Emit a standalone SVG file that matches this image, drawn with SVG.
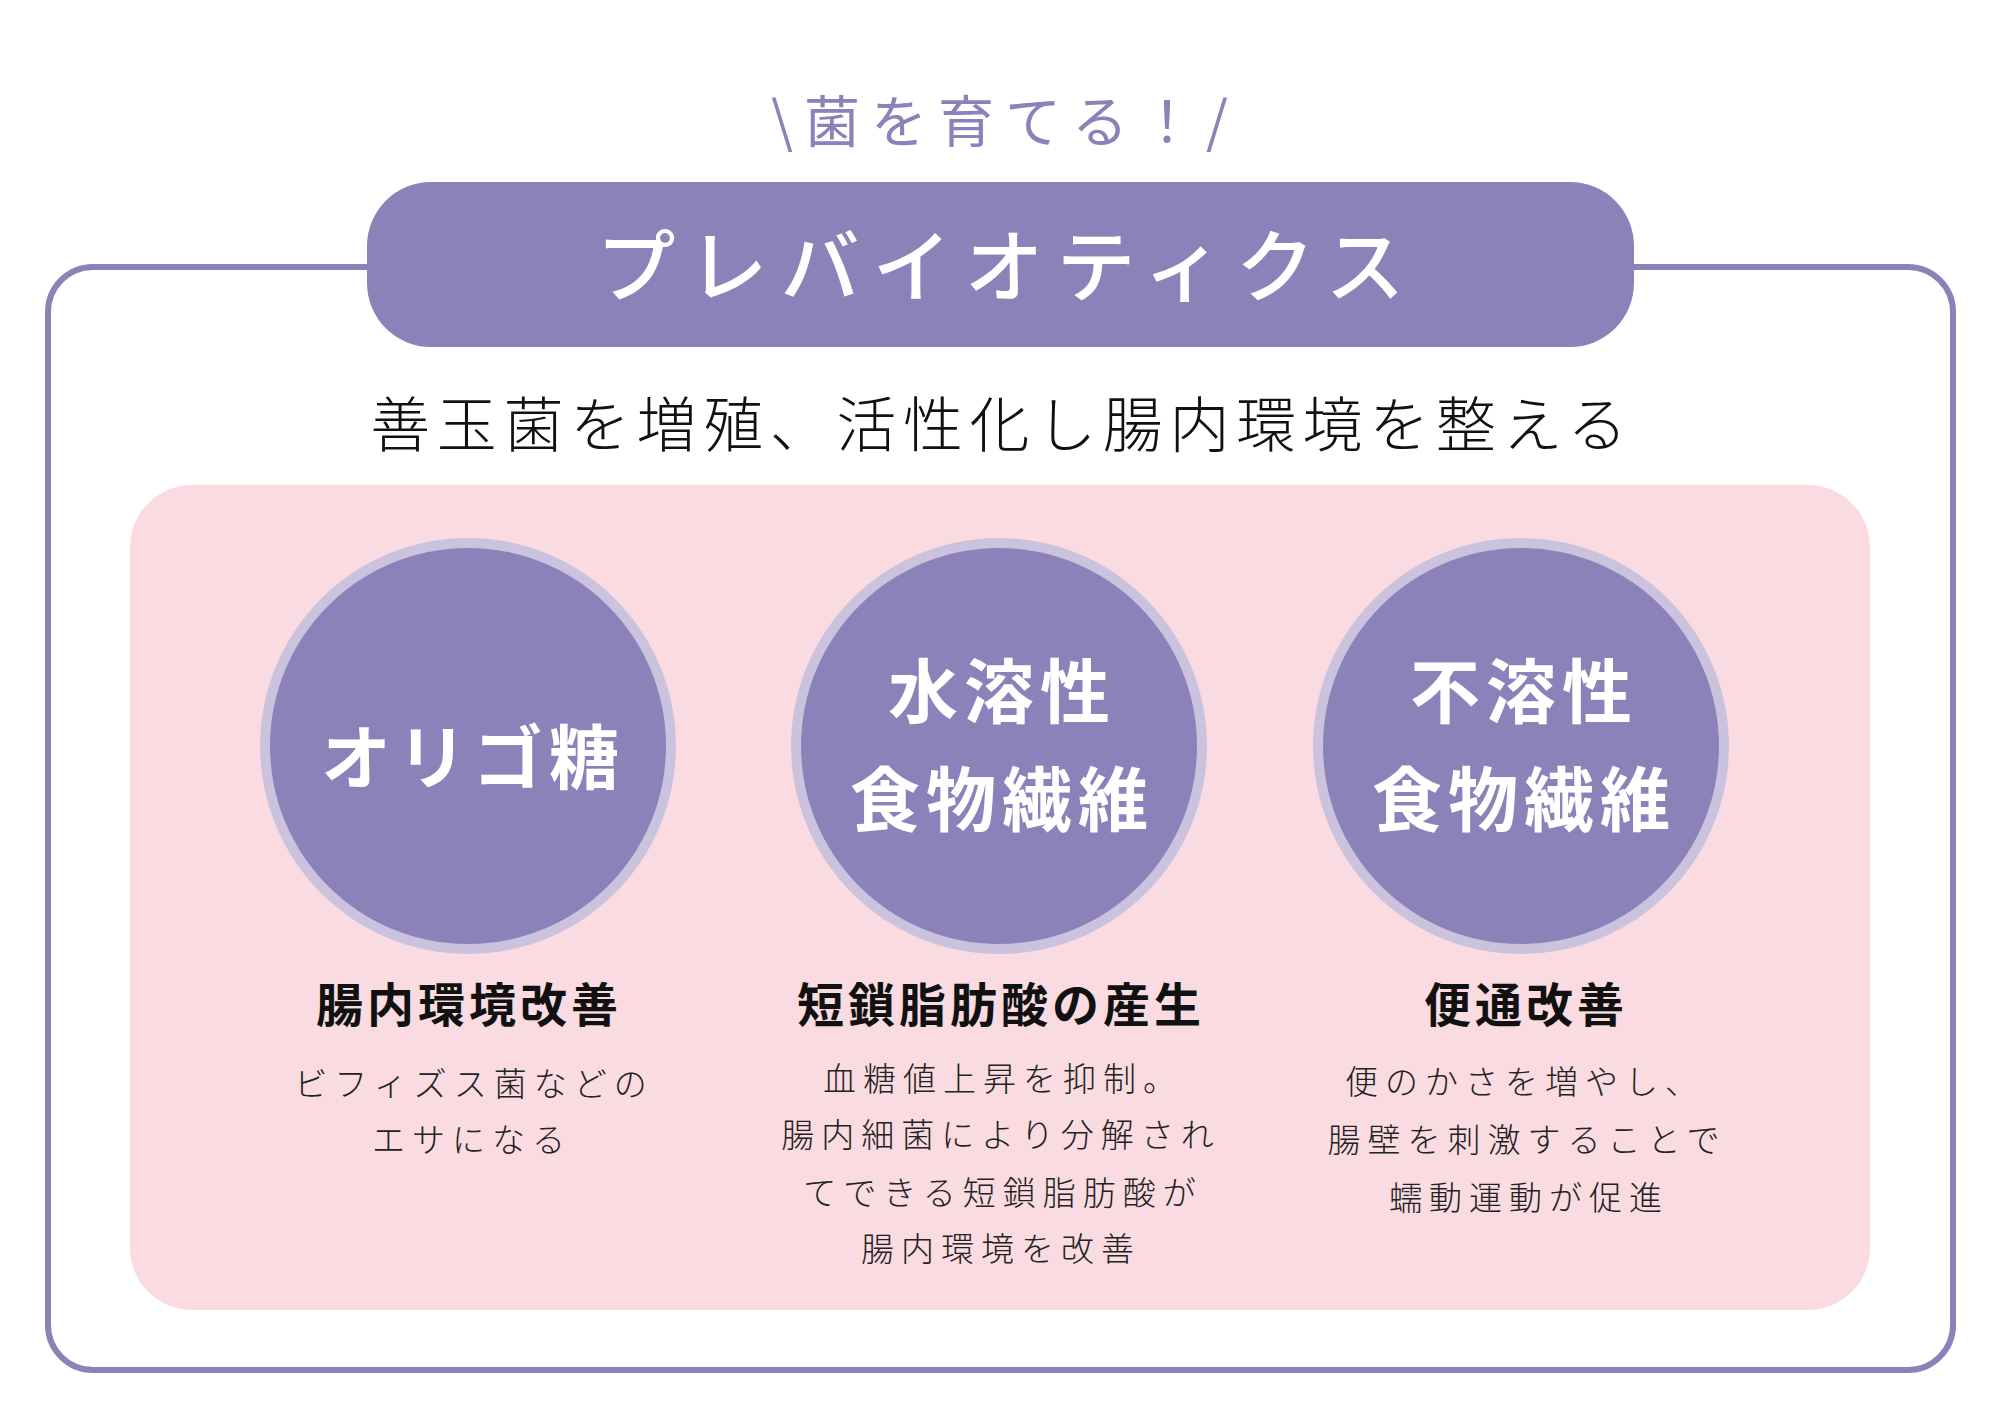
<svg xmlns="http://www.w3.org/2000/svg" width="2000" height="1414" viewBox="0 0 2000 1414">
<style>
.jp{font-family:"Noto Sans CJK JP","Noto Sans CJK SC",sans-serif;}
.ring{fill:#CBC3DE;}
.disc{fill:#8C82BA;}
.ctext{fill:#ffffff;font-size:70px;font-weight:700;letter-spacing:6px;text-anchor:middle;}
.head{fill:#111111;font-size:47px;font-weight:700;letter-spacing:4px;text-anchor:middle;}
.desc{fill:#222222;font-size:33px;font-weight:300;letter-spacing:7px;text-anchor:middle;}
</style>
<rect width="2000" height="1414" fill="#ffffff"/>
<g id="frame">
<rect x="48" y="267" width="1905" height="1103" rx="45" ry="45" fill="none" stroke="#8C82BA" stroke-width="6"/>
</g>
<g id="tagline">
<text class="jp" x="1005" y="142" font-size="56" fill="#8C82BA" text-anchor="middle" letter-spacing="11">\菌を育てる！/</text>
</g>
<g id="title">
<rect x="367" y="182" width="1267" height="165" rx="64" ry="64" fill="#8C82BA"/>
<text class="jp" x="1007" y="296" font-size="79" font-weight="500" fill="#ffffff" text-anchor="middle" letter-spacing="13">プレバイオティクス</text>
</g>
<g id="subtitle">
<text class="jp" x="1002" y="447" font-size="60" font-weight="300" fill="#111111" text-anchor="middle" letter-spacing="6.6">善玉菌を増殖、活性化し腸内環境を整える</text>
</g>
<rect id="panel" x="130" y="485" width="1740" height="825" rx="62" ry="62" fill="#F9DBE1"/>
<g id="connectors"></g>
<g id="node-oligo">
<circle class="ring" cx="468" cy="746" r="208"/>
<circle class="disc" cx="468" cy="746" r="198"/>
<text class="jp ctext" x="473" y="784">オリゴ糖</text>
<text class="jp head" x="469" y="1022">腸内環境改善</text>
<text class="jp desc" x="474" y="1096">ビフィズス菌などの</text>
<text class="jp desc" x="472" y="1152">エサになる</text>
</g>
<g id="node-soluble">
<circle class="ring" cx="999" cy="746" r="208"/>
<circle class="disc" cx="999" cy="746" r="198"/>
<text class="jp ctext" x="1002" y="718">水溶性</text>
<text class="jp ctext" x="1002" y="826">食物繊維</text>
<text class="jp head" x="1001" y="1022">短鎖脂肪酸の産生</text>
<text class="jp desc" x="1003" y="1091">血糖値上昇を抑制。</text>
<text class="jp desc" x="1001" y="1147">腸内細菌により分解され</text>
<text class="jp desc" x="1003" y="1205">てできる短鎖脂肪酸が</text>
<text class="jp desc" x="1001" y="1261">腸内環境を改善</text>
</g>
<g id="node-insoluble">
<circle class="ring" cx="1521" cy="746" r="208"/>
<circle class="disc" cx="1521" cy="746" r="198"/>
<text class="jp ctext" x="1524" y="718">不溶性</text>
<text class="jp ctext" x="1524" y="826">食物繊維</text>
<text class="jp head" x="1526" y="1022">便通改善</text>
<text class="jp desc" x="1525" y="1094">便のかさを増やし、</text>
<text class="jp desc" x="1527" y="1152">腸壁を刺激することで</text>
<text class="jp desc" x="1529" y="1210">蠕動運動が促進</text>
</g>
</svg>
